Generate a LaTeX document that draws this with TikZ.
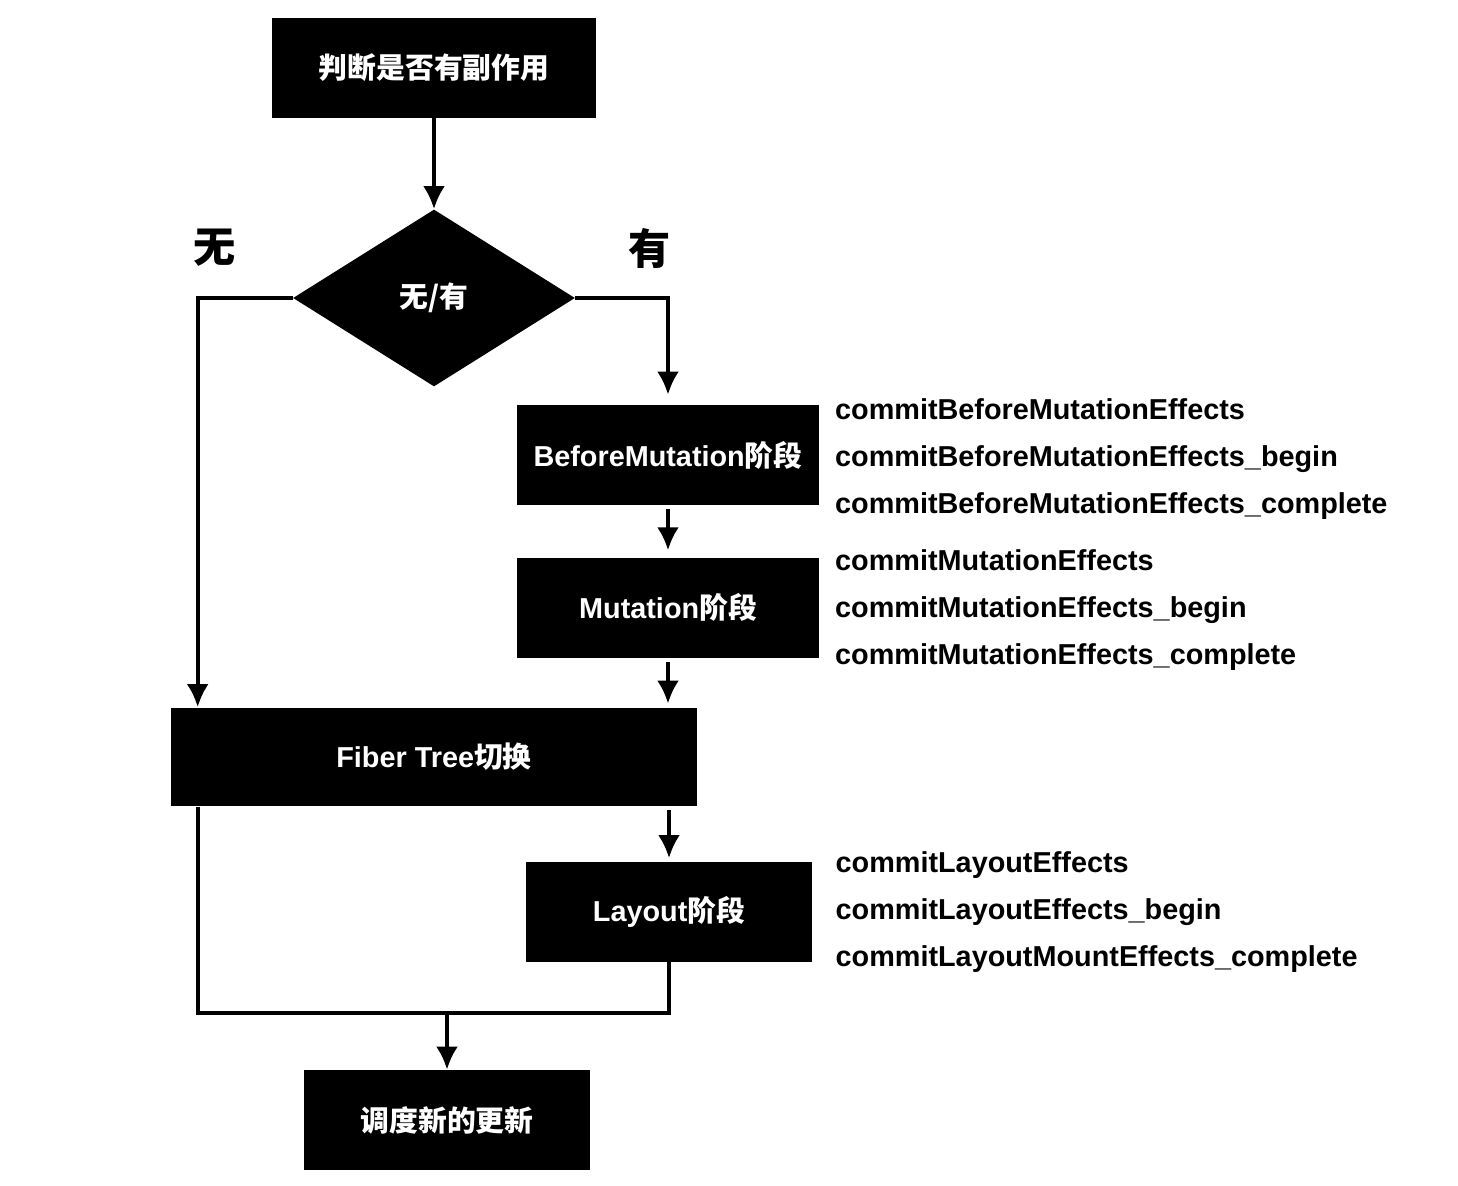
\documentclass[tikz,border=0pt]{standalone}
\usepackage{fontspec}
\setmainfont{Liberation Sans}
\newfontfamily\cjk{Noto Sans CJK SC}
\usetikzlibrary{arrows.meta, positioning, shapes.geometric}

\begin{document}
\begin{tikzpicture}[
        x=0.02cm, y=-0.02cm,
        every node/.style={align=center, font=\bfseries\fontsize{16.4}{20}\selectfont},
        block/.style={fill=black, text=white, minimum height=2cm, inner sep=0pt},
        decision/.style={diamond, fill=black, text=white, minimum width=5.64cm, minimum height=3.54cm, inner sep=0pt},
        hooks/.style={align=left, anchor=west, inner sep=0pt, font=\bfseries\fontsize{16.4}{26.7}\selectfont},
        branch/.style={font=\cjk\bfseries\fontsize{24}{28}\selectfont},
        arrow/.style={-{Latex[length=4.6mm, width=4.4mm]}, line width=2.3pt},
        link/.style={line width=2.3pt}
        ]

        \useasboundingbox (0,0) rectangle (1458,1186);

        % Nodes
        \node[block, minimum width=6.48cm] (Side_effect) at (434,68) {\cjk 判断是否有副作用};
        \node[decision] (Decision) at (434,298) {\cjk 无/有};
        \node[branch] (No_label) at (215,248) {\cjk 无};
        \node[branch] (Yes_label) at (650,248) {\cjk 有};
        \node[block, minimum width=6.06cm] (Before_mutation) at (668,455) {BeforeMutation{\cjk 阶段}};
        \node[block, minimum width=6.06cm, below=1.04cm of Before_mutation] (Mutation) {Mutation{\cjk 阶段}};
        \node[block, minimum width=10.52cm, minimum height=1.98cm] (Fiber_switch) at (434,757) {Fiber Tree{\cjk 切换}};
        \node[block, minimum width=5.72cm] (Layout) at (669,912) {Layout{\cjk 阶段}};
        \node[block, minimum width=5.72cm] (Schedule_update) at (447,1120) {\cjk 调度新的更新};

        % Hook lists
        \node[hooks, right=0.3cm of Before_mutation, yshift=-0.08cm] (Before_hooks) {commitBeforeMutationEffects\\ commitBeforeMutationEffects\_begin\\ commitBeforeMutationEffects\_complete};
        \node[hooks, right=0.3cm of Mutation, yshift=-0.05cm] (Mutation_hooks) {commitMutationEffects\\ commitMutationEffects\_begin\\ commitMutationEffects\_complete};
        \node[hooks, right=0.46cm of Layout] (Layout_hooks) {commitLayoutEffects\\ commitLayoutEffects\_begin\\ commitLayoutMountEffects\_complete};

        \coordinate (Join) at (447,1013);

        \draw [arrow] (Side_effect) -- (Decision);
        \draw [arrow] (Decision.west) -| ([xshift=0.54cm]Fiber_switch.north west);
        \draw [arrow, shorten >=0.2cm] (Decision.east) -| (Before_mutation.north);
        \draw [arrow, shorten <=2pt, shorten >=4pt] (Before_mutation) -- (Mutation);
        \draw [arrow, shorten <=2pt, shorten >=2pt] (Mutation.south) -- (Mutation.south |- Fiber_switch.north);
        \draw [arrow, shorten <=2pt, shorten >=2pt] (Layout.north |- Fiber_switch.south) -- (Layout.north);
        \draw [link] ([xshift=0.54cm]Fiber_switch.south west) |- (Join) -| (Layout.south);
        \draw [arrow] (Join) -- (Schedule_update);

    \end{tikzpicture}
\end{document}
